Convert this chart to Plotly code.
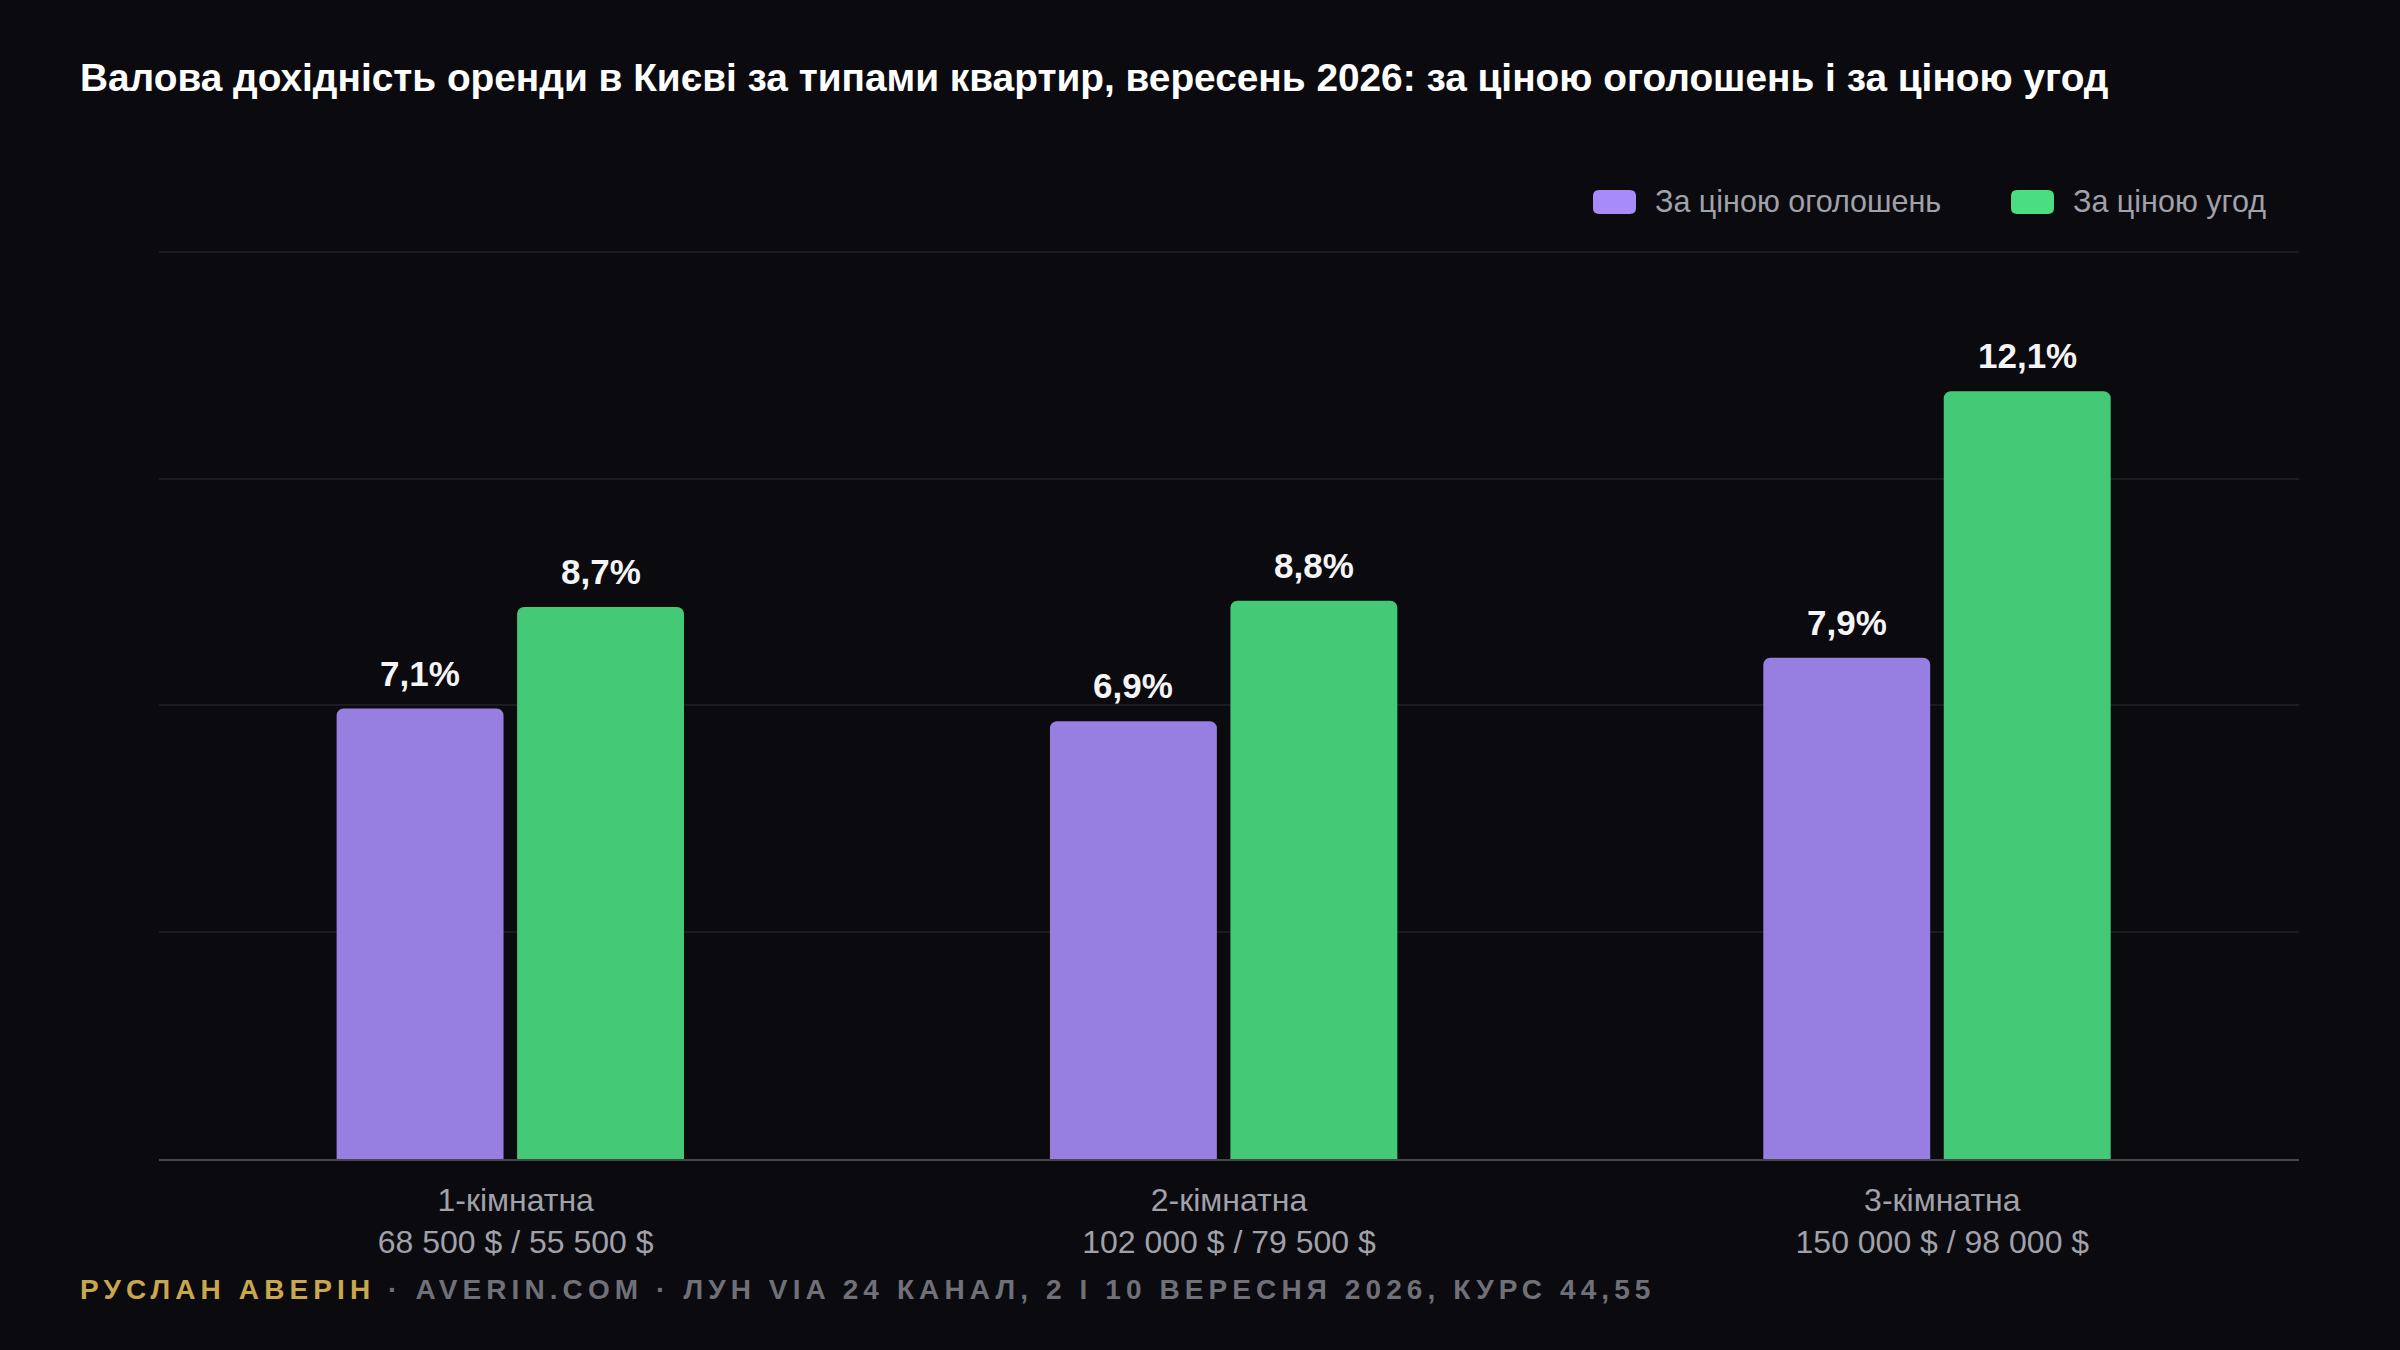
import plotly.graph_objects as go

# Дані
categories = ["1-кімнатна", "2-кімнатна", "3-кімнатна"]
prices = ["68 500 $ / 55 500 $", "102 000 $ / 79 500 $", "150 000 $ / 98 000 $"]
series_names = ["За ціною оголошень", "За ціною угод"]
listing_yield = [7.1, 6.9, 7.9]
deal_yield = [8.7, 8.8, 12.1]
y_max = 14.3

title = ("Валова дохідність оренди в Києві за типами квартир, вересень 2026: "
         "за ціною оголошень і за ціною угод")
author = "РУСЛАН АВЕРІН"
source = " · AVERIN.COM · ЛУН VIA 24 КАНАЛ, 2 І 10 ВЕРЕСНЯ 2026, КУРС 44,55"

BG = "#0a0a0f"
bar_colors = ["#977fe2", "#44c977"]
legend_colors = ["#a78bfa", "#4ade80"]
bar_offsets = [-0.251, 0.002]
bar_width = 0.234
FONT = "Liberation Sans, Arial, Helvetica, sans-serif"

W, H = 2400, 1350
L, R, T, B = 159, 101, 249, 191
plot_w, plot_h = W - L - R, H - T - B
cat_px = plot_w / len(categories)


def px_x(x):
    return (x - L) / plot_w


def px_y(y):
    return (H - B - y) / plot_h


def round_rect(x0, y0, x1, y1, r):
    # заокруглений прямокутник у координатах paper (вхід у пікселях)
    X = lambda v: f"{px_x(v):.5f}"
    Y = lambda v: f"{px_y(v):.5f}"
    return (f"M{X(x0 + r)},{Y(y0)} L{X(x1 - r)},{Y(y0)} Q{X(x1)},{Y(y0)} {X(x1)},{Y(y0 + r)} "
            f"L{X(x1)},{Y(y1 - r)} Q{X(x1)},{Y(y1)} {X(x1 - r)},{Y(y1)} "
            f"L{X(x0 + r)},{Y(y1)} Q{X(x0)},{Y(y1)} {X(x0)},{Y(y1 - r)} "
            f"L{X(x0)},{Y(y0 + r)} Q{X(x0)},{Y(y0)} {X(x0 + r)},{Y(y0)} Z")


x_labels = [f"{c}<br>{p}" for c, p in zip(categories, prices)]

fig = go.Figure()
for name, vals, col, off in zip(series_names, [listing_yield, deal_yield],
                                bar_colors, bar_offsets):
    fig.add_trace(go.Bar(
        x=x_labels, y=vals, name=name, offset=off, width=bar_width,
        marker=dict(color=col, line=dict(width=0), cornerradius=7),
        showlegend=False, hovertemplate="%{y:.1f}%<extra>" + name + "</extra>",
    ))
    # підписи значень над стовпчиками
    shift = (off + bar_width / 2) * cat_px
    for xl, v in zip(x_labels, vals):
        fig.add_annotation(
            text=f"{v:.1f}".replace(".", ",") + "%", x=xl, y=v,
            xref="x", yref="y", xanchor="center", yanchor="bottom",
            xshift=shift, yshift=14, showarrow=False,
            font=dict(family=FONT, size=35, color="#f5f5f7", weight="bold"),
        )

# легенда вручну (великі заокруглені маркери)
legend_pos = [(1593, 1653), (2011, 2071)]
for (sx, tx), name, col in zip(legend_pos, series_names, legend_colors):
    fig.add_shape(type="path", xref="paper", yref="paper",
                  path=round_rect(sx, 190, sx + 43, 214, 6),
                  fillcolor=col, line=dict(width=0), layer="above")
    fig.add_annotation(text=name, xref="paper", yref="paper",
                       x=px_x(tx), y=px_y(202), xanchor="left", yanchor="middle",
                       showarrow=False,
                       font=dict(family=FONT, size=30.5, color="#a1a1aa"))

fig.add_annotation(
    text=(f"<span style='color:#c9a74e;letter-spacing:5.1px'>{author}</span>"
          f"<span style='letter-spacing:5.1px'>{source}</span>"),
    xref="paper", yref="paper", x=px_x(78), y=px_y(1289),
    xanchor="left", yanchor="middle", showarrow=False,
    font=dict(family=FONT, size=28, color="#707078", weight="bold"),
)

fig.update_layout(
    width=W, height=H,
    paper_bgcolor=BG, plot_bgcolor=BG,
    margin=dict(l=L, r=R, t=T, b=B),
    barmode="group",
    title=dict(text=f"<b>{title}</b>", xref="container", yref="container",
               x=80 / W, xanchor="left", y=1 - 77 / H, yanchor="middle",
               font=dict(family=FONT, size=38.8, color="#ffffff")),
    xaxis=dict(showline=True, linecolor="#46464d", linewidth=2,
               showgrid=False, ticks="", ticklabelstandoff=12,
               tickfont=dict(family=FONT, size=32, color="#a1a1aa")),
    yaxis=dict(range=[0, y_max * 1.003],
               tickvals=[y_max * i / 4 for i in range(5)],
               showticklabels=False, gridcolor="#1b1b21", gridwidth=1.5,
               zeroline=False, fixedrange=True),
)

fig.write_html("out.html", config={"displayModeBar": False},
               post_script="document.body.style.margin='0';")
